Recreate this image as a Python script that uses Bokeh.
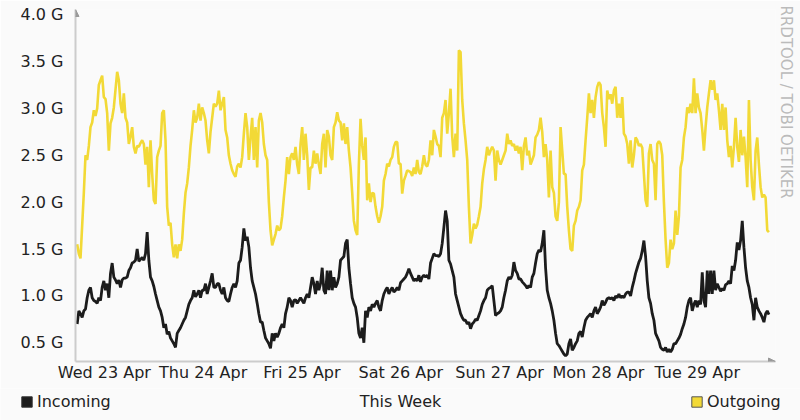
import numpy as np
from bokeh.plotting import figure
from bokeh.models import (FixedTicker, Range1d, Legend, LegendItem, Title, Label,
                          Arrow, NormalHead, ColumnDataSource)
from bokeh.embed import file_html
from bokeh.resources import INLINE

# ---------------- data ----------------
# samples every ~24.3 min (week of 168 h / 415 intervals), starting Tue 22 Apr 17:00
SAMPLE_HOURS = 168 / 415

incoming = [
    0.70,0.84,0.81,0.77,0.84,0.86,0.98,1.06,1.09,0.98,
    0.95,0.94,0.92,0.98,0.95,1.09,1.16,1.06,1.13,0.98,
    1.24,1.35,1.20,1.17,1.13,1.17,1.09,1.17,1.19,1.19,
    1.20,1.27,1.30,1.35,1.36,1.38,1.50,1.37,1.39,1.41,
    1.38,1.45,1.68,1.38,1.20,1.16,1.10,1.02,0.95,0.88,
    0.84,0.77,0.66,0.70,0.59,0.62,0.55,0.52,0.49,0.45,
    0.60,0.63,0.66,0.70,0.74,0.77,0.84,0.91,0.95,0.98,
    1.06,0.99,1.02,1.06,0.98,1.06,1.06,1.13,1.02,1.09,
    1.16,1.24,1.09,1.09,1.13,1.13,1.06,1.02,1.09,0.98,
    0.95,0.94,1.02,1.09,1.13,1.09,1.16,1.35,1.38,1.52,
    1.72,1.59,1.63,1.52,1.30,1.16,1.09,1.02,0.92,0.81,
    0.72,0.72,0.63,0.55,0.52,0.49,0.44,0.60,0.52,0.60,
    0.56,0.60,0.66,0.70,0.66,0.81,0.88,0.98,0.95,0.88,
    0.95,0.96,0.92,0.95,0.98,0.95,0.92,0.98,1.02,0.98,
    1.09,1.20,1.13,1.02,1.16,1.06,1.13,1.30,1.06,1.02,
    1.27,1.06,1.27,1.06,1.20,1.09,1.13,1.20,1.38,1.40,
    1.42,1.56,1.60,1.30,1.13,0.98,0.92,0.88,0.77,0.60,
    0.55,0.66,0.50,0.84,0.77,0.88,0.84,0.91,0.88,0.92,
    0.95,0.88,0.84,0.95,1.02,1.06,1.09,1.02,1.06,1.09,
    1.04,1.06,1.09,1.06,1.14,1.16,1.18,1.20,1.24,1.29,
    1.24,1.20,1.16,1.18,1.16,1.22,1.15,1.20,1.22,1.20,
    1.22,1.18,1.35,1.40,1.45,1.43,1.43,1.42,1.45,1.56,
    1.73,1.91,1.80,1.38,1.34,1.27,1.20,1.02,0.95,0.88,
    0.81,0.77,0.74,0.74,0.70,0.72,0.65,0.70,0.72,0.75,
    0.74,0.79,0.84,0.91,0.95,0.98,1.06,1.08,1.09,1.11,
    0.95,0.79,0.81,0.82,0.84,0.88,0.98,1.06,1.16,1.20,
    1.18,1.22,1.36,1.27,1.24,1.18,
    1.18,1.15,1.13,1.11,1.08,1.11,1.09,1.20,1.24,1.35,
    1.45,1.49,1.47,1.56,1.70,1.30,1.06,0.98,0.92,0.84,
    0.74,0.60,0.49,0.47,0.44,0.41,0.38,0.36,0.38,0.49,
    0.54,0.42,0.45,0.49,0.52,0.60,0.62,0.56,0.66,0.74,
    0.77,0.79,0.81,0.77,0.84,0.88,0.81,0.84,0.88,0.95,
    0.90,0.93,0.97,0.98,0.97,0.98,0.95,1.00,0.98,1.02,
    0.98,1.00,0.98,1.02,1.04,1.04,1.00,1.09,1.16,1.24,
    1.30,1.36,1.40,1.48,1.59,1.42,1.16,0.98,0.92,0.81,
    0.74,0.60,0.56,0.52,0.45,0.43,0.42,0.45,0.40,0.43,
    0.40,0.43,0.49,0.49,0.52,0.55,0.59,0.65,0.70,0.77,
    0.88,0.95,0.98,0.84,0.91,0.95,0.88,0.95,0.91,1.25,
    0.95,0.88,1.27,1.02,1.27,1.02,1.27,1.06,1.13,1.09,
    1.05,1.08,1.06,1.12,1.13,1.16,1.13,1.32,1.27,1.38,
    1.57,1.49,1.59,1.80,1.52,1.30,1.16,1.09,0.98,0.91,
    0.74,0.98,0.88,0.84,0.81,0.77,0.72,0.81,0.84,0.80,
]

outgoing = [
    1.55,1.45,1.40,1.75,2.10,2.50,2.45,2.60,2.80,2.85,
    2.98,2.92,3.00,3.25,3.30,3.35,3.12,3.10,2.95,2.55,
    2.84,2.90,3.01,3.20,3.39,3.30,3.05,2.95,3.16,2.90,
    2.85,2.62,2.70,2.80,2.59,2.52,2.60,2.59,2.63,2.66,
    2.62,2.40,2.59,2.16,2.66,2.30,2.02,1.98,2.48,2.55,
    2.60,2.95,2.98,2.66,1.95,1.75,1.78,1.55,1.41,1.55,
    1.40,1.55,1.48,1.60,1.88,2.10,2.20,2.37,2.60,2.77,
    2.98,2.85,2.90,3.05,2.87,3.01,2.95,2.87,2.66,2.52,
    2.75,2.90,3.05,3.02,3.05,3.19,2.98,3.05,3.12,2.77,
    2.69,2.50,2.41,2.34,2.30,2.27,2.38,2.41,2.37,2.48,
    2.73,2.95,2.80,2.45,2.69,2.90,2.45,2.80,2.37,2.87,
    2.95,2.85,2.62,2.50,2.45,2.00,1.70,1.54,1.60,1.66,
    1.75,1.70,1.72,1.85,2.05,2.23,2.48,2.30,2.48,2.52,
    2.45,2.59,2.40,2.30,2.62,2.80,2.45,2.73,2.50,2.13,
    2.37,2.37,2.55,2.41,2.52,2.40,2.30,2.62,2.73,2.37,
    2.77,2.70,2.50,2.45,2.80,2.85,2.96,2.87,2.85,2.66,
    2.84,2.62,2.80,2.55,2.37,2.10,1.80,1.70,1.65,2.40,
    2.89,2.60,2.45,2.69,2.02,2.20,2.00,2.10,2.09,1.95,
    1.85,1.78,1.85,1.95,2.23,2.30,2.41,2.38,2.45,2.48,
    2.59,2.64,2.64,2.41,2.41,2.09,2.23,2.28,2.34,2.33,
    2.32,2.28,2.37,2.30,2.45,2.32,2.30,2.38,2.50,2.40,
    2.38,2.45,2.66,2.50,2.77,2.70,2.62,2.60,2.48,2.90,
    2.95,3.09,2.73,2.95,3.21,2.70,2.48,2.73,2.55,3.62,
    3.60,3.09,2.84,2.66,2.45,1.95,1.56,1.65,1.77,1.72,
    1.76,1.85,1.95,2.20,2.35,2.45,2.59,2.50,2.55,2.59,
    2.55,2.23,2.55,2.45,2.40,2.45,2.50,2.55,2.73,2.62,
    2.66,2.60,2.62,2.55,2.60,2.52,
    2.59,2.34,2.60,2.69,2.50,2.55,2.40,2.45,2.50,2.69,
    2.72,2.77,2.90,2.75,2.48,2.62,2.45,2.05,2.55,2.16,
    2.10,1.85,1.80,2.00,2.80,2.55,2.30,2.30,1.95,1.70,
    1.50,1.48,1.75,1.80,1.91,1.95,2.02,2.34,2.40,2.66,
    2.90,3.16,2.95,3.09,2.90,3.12,3.23,3.28,3.25,2.95,
    2.80,2.59,3.19,3.10,3.15,3.05,3.19,3.23,2.90,3.05,
    2.90,3.12,2.73,2.70,2.62,2.41,2.66,2.37,2.50,2.69,
    2.66,2.60,2.62,2.58,2.30,2.02,1.95,2.52,2.62,2.45,
    2.41,2.02,2.62,2.65,2.62,2.50,2.00,1.60,1.30,1.35,
    1.60,1.50,1.56,1.91,1.65,1.85,2.37,2.45,2.69,2.80,
    3.01,2.95,3.05,2.95,3.32,2.95,3.16,3.01,2.95,2.77,
    2.55,2.80,3.01,3.16,3.30,3.20,3.30,3.09,3.16,2.98,
    2.77,3.05,2.77,3.01,2.66,2.48,2.60,2.37,2.59,2.90,
    2.59,2.43,2.77,2.50,2.70,2.48,2.16,3.09,2.45,2.16,
    2.02,2.55,2.69,2.40,2.16,2.05,2.08,2.05,1.70,1.68,
]

hours = [(i + 1) * SAMPLE_HOURS for i in range(len(incoming))]

# day labels at midnight (hours since start of graph)
tick_hours = [7, 31, 55, 79, 103, 127, 151]
tick_labels = ["Wed 23 Apr", "Thu 24 Apr", "Fri 25 Apr", "Sat 26 Apr",
               "Sun 27 Apr", "Mon 28 Apr", "Tue 29 Apr"]
y_ticks = [0.5, 1.0, 1.5, 2.0, 2.5, 3.0, 3.5, 4.0]
y_tick_labels = ["0.5 G", "1.0 G", "1.5 G", "2.0 G", "2.5 G", "3.0 G", "3.5 G", "4.0 G"]

X_MIN, X_MAX = 0, 170
Y_MIN, Y_MAX = 0.3, 4.055

# ---------------- styles ----------------
FONT = "DejaVu Sans"
TEXT = "#222222"
BG = "#fafafa"
C_IN = "#1c1c1c"
C_OUT = "#f2d936"
AXIS = "#cccccc"

p = figure(width=800, height=388, output_backend="svg", toolbar_location=None,
           x_range=Range1d(X_MIN, X_MAX), y_range=Range1d(Y_MIN, Y_MAX),
           min_border_left=75, min_border_right=25, min_border_top=9,
           min_border_bottom=27)
p.background_fill_color = BG
p.border_fill_color = BG
p.outline_line_color = None
p.grid.visible = False

src = ColumnDataSource(dict(t=hours, inc=incoming, out=outgoing))
p.line("t", "inc", source=src, line_color=C_IN, line_width=2.8)
p.line("t", "out", source=src, line_color=C_OUT, line_width=2.6)

for ax in (p.xaxis[0], p.yaxis[0]):
    ax.axis_line_color = AXIS
    ax.axis_line_width = 2
    ax.major_tick_line_color = None
    ax.minor_tick_line_color = None
    ax.major_tick_out = 0
    ax.major_tick_in = 0
    ax.minor_tick_out = 0
    ax.major_label_text_font = FONT
    ax.major_label_text_font_size = "16px"
    ax.major_label_text_color = TEXT

p.xaxis.ticker = FixedTicker(ticks=tick_hours)
p.xaxis.major_label_overrides = {h: s for h, s in zip(tick_hours, tick_labels)}
p.xaxis.major_label_standoff = 1
p.yaxis.ticker = FixedTicker(ticks=y_ticks)
p.yaxis.major_label_overrides = {v: s for v, s in zip(y_ticks, y_tick_labels)}
p.yaxis.major_label_standoff = 12

# axis arrow heads
p.add_layout(Arrow(end=NormalHead(size=7, fill_color="#999999", line_color="#999999"),
                   x_start=X_MIN, y_start=Y_MAX - 0.1, x_end=X_MIN, y_end=Y_MAX,
                   line_alpha=0))
p.add_layout(Arrow(end=NormalHead(size=7, fill_color="#999999", line_color="#999999"),
                   x_start=X_MAX - 2, y_start=Y_MIN, x_end=X_MAX, y_end=Y_MIN,
                   line_alpha=0))

p.add_layout(Title(text="RRDTOOL / TOBI OETIKER", align="left", offset=-4,
                   vertical_align="middle", standoff=0, text_font=FONT,
                   text_font_size="15px", text_font_style="normal",
                   text_color="#bbbbbb"), "right")

# ---------------- legend strip (separate root, full-width frame) ----------------
strip = figure(width=800, height=32, output_backend="svg", toolbar_location=None,
               x_range=Range1d(0, 1), y_range=Range1d(0, 1),
               x_axis_location=None, y_axis_location=None, min_border=0,
               min_border_left=0, min_border_right=0, min_border_top=0,
               min_border_bottom=0)
strip.background_fill_color = BG
strip.border_fill_color = BG
strip.outline_line_color = None
strip.grid.visible = False

# swatch renderers: a single undefined point, so only the legend glyph shows
nan = np.array([np.nan])
sw_in = strip.rect(x=nan, y=nan, width=1, height=1, fill_color=C_IN, line_color="#333333")
sw_out = strip.rect(x=nan, y=nan, width=1, height=1, fill_color=C_OUT, line_color="#555555")

def make_legend(label, rend, loc):
    lg = Legend(items=[LegendItem(label=label, renderers=[rend])], location=loc,
                glyph_width=13, glyph_height=13, label_height=13, label_standoff=4,
                padding=0, margin=0, spacing=0, border_line_alpha=0,
                background_fill_alpha=0, label_text_font=FONT,
                label_text_font_size="16px", label_text_color=TEXT)
    strip.add_layout(lg, "center")

make_legend("Incoming", sw_in, (20, 9))
make_legend("Outgoing", sw_out, (690, 9))

strip.add_layout(Label(x=400, y=19, x_units="screen", y_units="screen", text="This Week",
                       text_align="center", text_baseline="middle", text_font=FONT,
                       text_font_size="16px", text_color=TEXT))

open("out.html", "w").write(file_html([p, strip], INLINE))
